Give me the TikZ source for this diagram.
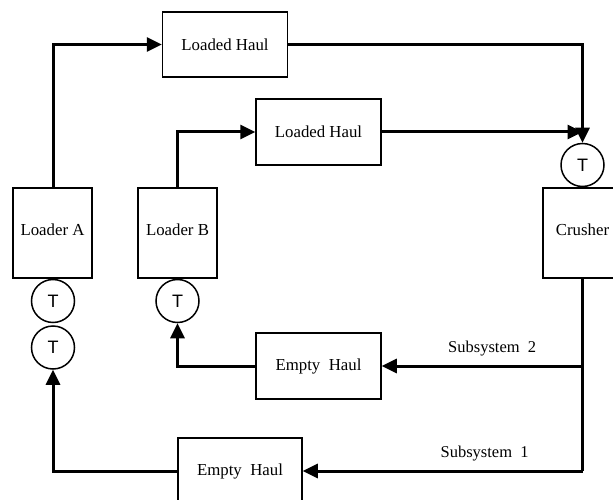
\documentclass[tikz,border=0pt]{standalone}
\usepackage{fontspec}
\setmainfont{Liberation Serif}
\newfontfamily\tfont{Liberation Sans}
\usetikzlibrary{arrows.meta}
\tikzset{
  blk/.style={draw, line width=1.5pt, inner sep=0pt, font=\fontsize{16.8}{19}\selectfont},
  tc/.style={draw, circle, line width=1.5pt, minimum size=43pt, inner sep=0pt, font=\tfont\fontsize{18}{21}\selectfont},
  flow/.style={line width=3pt, -{Triangle[length=15pt,width=14pt]}},
  plain/.style={line width=3pt},
  lbl/.style={font=\fontsize{16.5}{19}\selectfont, inner sep=0pt}
}
\begin{document}
\begin{tikzpicture}[x=1pt,y=-1pt]
\clip (0,0) rectangle (613,500);
\fill[white] (0,0) rectangle (613,500);
% boxes
\node[blk, minimum width=125pt, minimum height=65pt] (lh1) at (225,44.5) {Loaded Haul};
\node[blk, minimum width=125pt, minimum height=66pt] (lh2) at (318.5,132) {Loaded Haul};
\node[blk, minimum width=79pt, minimum height=90pt] (la) at (52.5,233) {\raisebox{6pt}{Loader A}};
\node[blk, minimum width=79pt, minimum height=90pt] (lb) at (177.5,233) {\raisebox{6pt}{Loader B}};
\node[blk, minimum width=79pt, minimum height=90pt] (cr) at (582.5,233) {\raisebox{6pt}{Crusher}};
\node[blk, minimum width=125pt, minimum height=66pt] (eh2) at (318.5,366) {Empty\ \ Haul};
\node[blk, minimum width=124pt, minimum height=66pt] (eh1) at (240,471) {\raisebox{-2pt}{Empty\ \ Haul}};
% T circles
\node[tc] (ta1) at (53,301) {T};
\node[tc] (ta2) at (53,347.5) {T};
\node[tc] (tb) at (177.5,301) {T};
\node[tc] (tcr) at (582.5,165) {T};
% junction coordinates
\coordinate (j2) at (582.5,366);
\coordinate (j1) at (582.5,471);
% connectors
\draw[flow] (la.north -| ta1) |- (lh1.west);
\draw[flow] (lb.north) |- (lh2.west);
\draw[flow] (lh1.east) -| (tcr.north);
\draw[flow] (lh2.east) -- (lh2.east -| tcr.north);
\draw[plain] (cr.south) -- (j1);
\draw[flow] (j2) -- (eh2.east) node[lbl, pos=0.45, above=8pt] {Subsystem\ \ 2};
\draw[flow] (j1) -- (eh1.east) node[lbl, pos=0.35, above=8pt] {Subsystem\ \ 1};
\draw[flow] (eh2.west) -| (tb.south);
\draw[flow] (eh1.west) -| (ta2.south);
\end{tikzpicture}
\end{document}
